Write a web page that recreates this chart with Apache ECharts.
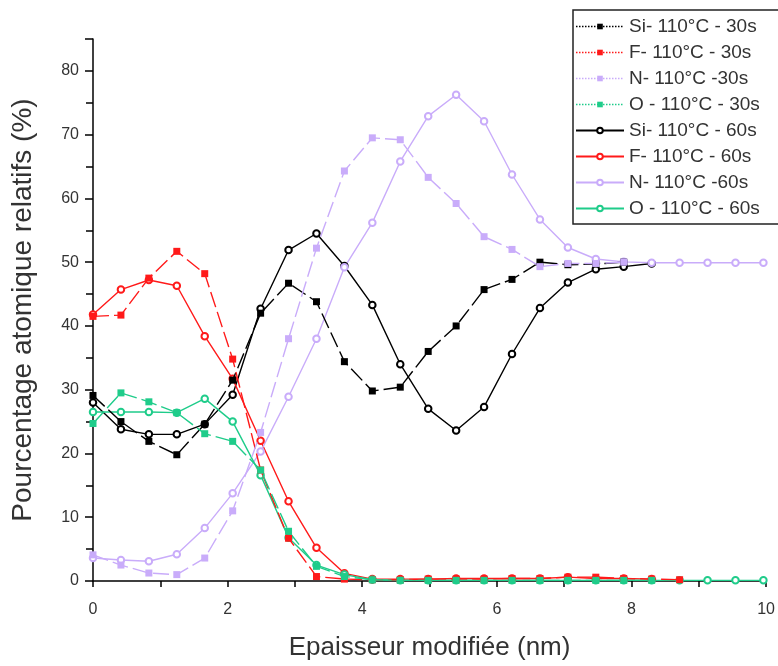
<!DOCTYPE html>
<html>
<head>
<meta charset="utf-8">
<script src="https://cdn.jsdelivr.net/npm/echarts@6/dist/echarts.min.js"></script>
<style>
html,body{margin:0;padding:0;background:#fff;}
#chart{width:778px;height:666px;}
</style>
</head>
<body>
<div id="chart"></div>
<script>
// Depth positions (nm)
var depth = [0, 0.415, 0.83, 1.245, 1.66, 2.075, 2.49, 2.905, 3.32, 3.735, 4.15, 4.565, 4.98, 5.395, 5.81, 6.225, 6.64, 7.055, 7.47, 7.885, 8.3, 8.715, 9.13, 9.545, 9.96];

var seriesNames = ["Si- 110°C - 30s", "F- 110°C - 30s", "N- 110°C -30s", "O - 110°C - 30s",
                   "Si- 110°C - 60s", "F- 110°C - 60s", "N- 110°C -60s", "O - 110°C - 60s"];

var si30 = [29.1, 25.0, 21.9, 19.8, 24.6, 31.5, 42.0, 46.7, 43.8, 34.4, 29.8, 30.4, 36.0, 40.0, 45.7, 47.3, 50.0, 49.6, 49.7, 50.0];
var f30  = [41.5, 41.7, 47.5, 51.7, 48.2, 34.8, 17.4, 6.7, 0.7, 0.3, 0.2, 0.2, 0.3, 0.3, 0.3, 0.4, 0.4, 0.6, 0.6, 0.4, 0.3, 0.2];
var n30  = [4.1, 2.5, 1.25, 1.0, 3.6, 11.0, 23.3, 38.0, 52.2, 64.3, 69.5, 69.2, 63.3, 59.2, 54.0, 52.0, 49.3, 49.8, 49.8, 50.0];
var o30  = [24.7, 29.5, 28.1, 26.4, 23.1, 21.9, 17.4, 7.8, 2.3, 0.7, 0.2, 0.1, 0.1, 0.1, 0.1, 0.1, 0.1, 0.1, 0.1, 0.1, 0.1];

var si60 = [28.0, 23.8, 23.0, 23.0, 24.6, 29.2, 42.7, 51.9, 54.5, 49.4, 43.3, 34.0, 27.0, 23.6, 27.3, 35.6, 42.8, 46.8, 48.9, 49.3, 49.8];
var f60  = [41.8, 45.7, 47.2, 46.3, 38.4, 31.7, 22.0, 12.5, 5.2, 1.2, 0.3, 0.3, 0.3, 0.4, 0.4, 0.4, 0.4, 0.6, 0.4, 0.4, 0.3];
var n60  = [3.6, 3.3, 3.1, 4.2, 8.3, 13.75, 20.3, 28.9, 38.0, 49.2, 56.2, 65.8, 72.9, 76.25, 72.1, 63.75, 56.7, 52.3, 50.5, 50.05, 49.9, 49.9, 49.9, 49.9, 49.9];
var o60  = [26.5, 26.5, 26.5, 26.4, 28.6, 25.0, 16.6, 6.8, 2.5, 1.0, 0.2, 0.1, 0.1, 0.1, 0.1, 0.1, 0.1, 0.1, 0.1, 0.1, 0.1, 0.1, 0.1, 0.1, 0.1];

var xTicks = [0, 2, 4, 6, 8, 10];
var yTicks = [0, 10, 20, 30, 40, 50, 60, 70, 80];

var colors = ["#000000", "#ff1a1a", "#c9acfa", "#1fcc8a"];

function pairs(vals) {
  return vals.map(function (v, i) { return [depth[i], v]; });
}

var allVals = [si30, f30, n30, o30, si60, f60, n60, o60];
var FONT = "Liberation Sans, Arial, sans-serif";

var series = allVals.map(function (vals, k) {
  var is30 = k < 4;
  var c = colors[k % 4];
  return {
    name: seriesNames[k],
    type: 'line',
    data: pairs(vals),
    symbol: is30 ? 'rect' : 'emptyCircle',
    symbolSize: is30 ? 7 : 6.5,
    showAllSymbol: true,
    color: c,
    lineStyle: { color: c, width: 1.4, type: is30 ? [16, 5] : 'solid' },
    itemStyle: is30 ? { color: c } : { color: c, borderColor: c, borderWidth: 1.3 },
    z: is30 ? 3 : 2,
    animation: false
  };
});

var legendData = seriesNames.map(function (n, k) {
  var is30 = k < 4;
  return {
    name: n,
    lineStyle: { type: is30 ? 'dotted' : 'solid', width: is30 ? 1.5 : 2 }
  };
});

var chart = echarts.init(document.getElementById('chart'), null, { renderer: 'canvas' });
chart.setOption({
  backgroundColor: '#ffffff',
  animation: false,
  grid: { left: 93, right: 10, top: 39, bottom: 83, containLabel: false },
  legend: {
    data: legendData,
    orient: 'vertical',
    left: 573,
    top: 10,
    itemWidth: 48,
    itemHeight: 7,
    itemGap: 7,
    padding: [7, 60, 6, 2],
    borderColor: '#222',
    borderWidth: 1.5,
    backgroundColor: '#ffffff',
    textStyle: { fontFamily: FONT, fontSize: 19, color: '#333' },
    z: 10
  },
  xAxis: {
    type: 'value',
    min: 0, max: 10, interval: 2,
    name: 'Epaisseur modifiée (nm)',
    nameLocation: 'middle',
    nameGap: 54,
    nameTextStyle: { fontFamily: FONT, fontSize: 26, color: '#333' },
    axisLine: { show: true, onZero: false, lineStyle: { color: '#000', width: 1.5 } },
    axisTick: { show: true, inside: false, length: 6, lineStyle: { color: '#000', width: 1.5 } },
    minorTick: { show: true, splitNumber: 2, length: 6, lineStyle: { color: '#000', width: 1.5 } },
    axisLabel: {
      fontFamily: FONT, fontSize: 16, color: '#333', margin: 21,
      formatter: function (v) { return xTicks.indexOf(v) >= 0 ? String(v) : ''; }
    },
    splitLine: { show: false }
  },
  yAxis: {
    type: 'value',
    min: 0, max: 85, interval: 10,
    name: 'Pourcentage atomique relatifs (%)',
    nameLocation: 'middle',
    nameGap: 56,
    nameTextStyle: { fontFamily: FONT, fontSize: 28, color: '#333' },
    axisLine: { show: true, onZero: false, lineStyle: { color: '#000', width: 1.5 } },
    axisTick: { show: true, inside: false, length: 8, lineStyle: { color: '#000', width: 1.5 } },
    minorTick: { show: true, splitNumber: 2, length: 7, lineStyle: { color: '#000', width: 1.5 } },
    axisLabel: {
      fontFamily: FONT, fontSize: 16, color: '#333', margin: 14,
      formatter: function (v) { return yTicks.indexOf(v) >= 0 ? String(v) : ''; }
    },
    splitLine: { show: false }
  },
  series: series
});
</script>
</body>
</html>
